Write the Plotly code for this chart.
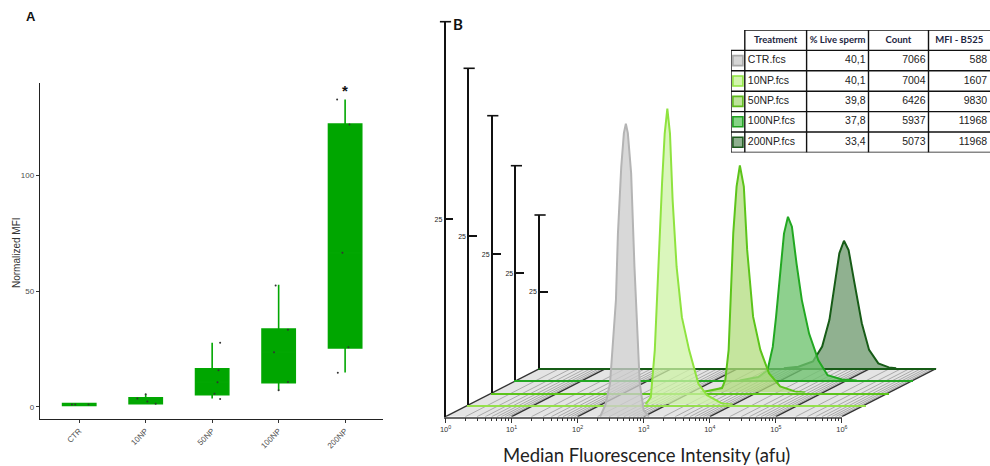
import math
import plotly.graph_objects as go

W, H = 990, 466

# ---------------- Panel A data ----------------
groups = ["CTR", "10NP", "50NP", "100NP", "200NP"]
box_q1 = [0.6, 1.4, 5.3, 10.5, 25.4]
box_median = [1.0, 2.4, 10.6, 23.6, 66.5]
box_q3 = [1.5, 3.9, 16.4, 33.6, 122.0]
box_lower = [0.6, 1.4, 3.6, 7.2, 14.8]
box_upper = [1.5, 5.5, 27.7, 52.7, 132.6]
pts_group = [0, 0, 0, 1, 1, 1, 1, 2, 2, 2, 2, 2, 3, 3, 3, 3, 3, 4, 4, 4, 4, 4]
pts_jitter = [-0.11, -0.06, 0.14, -0.125, 0.025, 0.15, 0.0, 0.12, 0.095, 0.08, 0.035, 0.12,
              -0.045, 0.14, -0.07, 0.14, 0.0, -0.12, 0.065, -0.04, 0.05, -0.11]
pts_value = [1.0, 1.0, 1.0, 3.6, 2.4, 1.4, 5.5, 27.7, 15.8, 10.6, 5.7, 3.4,
             52.4, 33.3, 23.6, 10.8, 7.2, 132.6, 121.8, 66.5, 25.7, 14.7]
yticks_A = [0, 50, 100]

# ---------------- Panel B data ----------------
samples = ["CTR.fcs", "10NP.fcs", "50NP.fcs", "100NP.fcs", "200NP.fcs"]
live_pct = ["40,1", "40,1", "39,8", "37,8", "33,4"]
event_count = ["7066", "7004", "6426", "5937", "5073"]
mfi_b525 = ["588", "1607", "9830", "11968", "11968"]
table_headers = ["Treatment", "% Live sperm", "Count", "MFI - B525"]

ctr_log = [2.34, 2.42, 2.49, 2.53, 2.58, 2.61, 2.66, 2.70, 2.73, 2.76, 2.81, 2.86, 2.91, 2.94, 3.00, 3.08]
ctr_cnt = [0, 1.5, 4.2, 8.4, 14.8, 23.2, 31.6, 35.9, 37.1, 35.9, 30.8, 19.0, 10.5, 4.2, 0.8, 0]
np10_log = [2.67, 2.75, 2.81, 2.86, 2.92, 2.96, 3.00, 3.04, 3.08, 3.14, 3.22, 3.33, 3.47, 3.60, 3.83, 3.99]
np10_cnt = [0, 1.1, 8.1, 20.5, 32.9, 40.3, 44.0, 40.3, 30.4, 20.5, 13.0, 8.1, 3.1, 1.4, 0.15, 0]
np50_log = [3.14, 3.30, 3.47, 3.52, 3.57, 3.60, 3.64, 3.69, 3.74, 3.80, 3.85, 3.94, 4.05, 4.18, 4.35, 4.57, 4.73]
np50_cnt = [0, 0.36, 0.8, 2.3, 7.7, 16.7, 28.8, 37.2, 41.0, 37.2, 25.8, 13.7, 7.7, 3.5, 1.1, 0.2, 0]
np100_log = [3.38, 3.66, 3.80, 3.88, 3.93, 3.99, 4.05, 4.11, 4.17, 4.24, 4.32, 4.43, 4.57, 4.71, 4.93, 5.15]
np100_cnt = [0, 0.8, 2.3, 7.8, 14.8, 24.9, 34.2, 38.1, 35.8, 27.2, 18.7, 10.9, 4.7, 1.2, 0.2, 0]
np200_log = [3.69, 3.91, 4.13, 4.27, 4.38, 4.46, 4.53, 4.60, 4.67, 4.76, 4.87, 4.98, 5.12, 5.28, 5.39]
np200_cnt = [0, 0.5, 2.2, 7.1, 15.8, 27.7, 37.5, 41.6, 38.6, 27.7, 14.7, 6.0, 1.6, 0.3, 0]

hist_logs = [ctr_log, np10_log, np50_log, np100_log, np200_log]
hist_cnts = [ctr_cnt, np10_cnt, np50_cnt, np100_cnt, np200_cnt]
decades = [0, 1, 2, 3, 4, 5, 6]
minor_mult = [2, 3, 4, 5, 6, 7, 8, 9]
count_axis_max = 50
count_tick = 25

# ---------------- styles ----------------
line_cols = ["#b4b4b4", "#8fe33f", "#5cc41a", "#22a822", "#175c17"]
fill_cols = ["rgba(205,205,205,0.78)", "rgba(205,243,165,0.75)", "rgba(178,220,125,0.75)",
             "rgba(110,195,110,0.78)", "rgba(120,160,120,0.82)"]
base_cols = ["#7a7a7a", "#96e04c", "#5cc41a", "#22a822", "#175c17"]
swatch_fill = ["#d6d6d6", "#d2f5ad", "#bde39a", "#86d486", "#8fb08f"]
swatch_line = ["#a8a8a8", "#8fe33f", "#5cb81a", "#1e9e1e", "#1e5a1e"]

BOX_FILL = "#00a600"
BOX_LINE = "#02a702"

# geometry (pixels)
X0, XW = 445.5, 396.4      # front layer x start / width of 6 decades
DX, DY = 23.64, 12.1       # per-layer depth shift
Y0 = 416.7                 # front baseline
TOPS = [21.7, 68.3, 115.7, 165.7, 215.0]
NL = len(samples)
skew = DX / (XW / 6.0)

T_LEFT, T_TOP, ROW_H = 731.0, 30.0, 20.4
COL_W = [13.8, 61.8, 61.9, 60.0, 61.6]


def fx(p):
    return p / W


def fy(p):
    return 1 - p / H


fig = go.Figure()

# ---------------- Panel A ----------------
for i, g in enumerate(groups):
    fig.add_trace(go.Box(
        x=[i], q1=[box_q1[i]], median=[box_median[i]], q3=[box_q3[i]],
        lowerfence=[box_lower[i]], upperfence=[box_upper[i]],
        width=0.5, whiskerwidth=0, fillcolor=BOX_FILL,
        line=dict(color=BOX_LINE, width=1.6), boxpoints=False,
        xaxis="x", yaxis="y", showlegend=False, hoverinfo="skip"))

fig.add_trace(go.Scatter(
    x=[pts_group[j] + pts_jitter[j] for j in range(len(pts_group))], y=pts_value,
    mode="markers", marker=dict(size=2, color="#333"), xaxis="x", yaxis="y",
    showlegend=False, cliponaxis=False))

# ---------------- Panel B floor ----------------
s_end = (NL - 1) * skew
fig.add_trace(go.Scatter(
    x=[decades[0], decades[-1], decades[-1] + s_end, decades[0] + s_end, decades[0]],
    y=[0, 0, NL - 1, NL - 1, 0], fill="toself", fillcolor="#e4e4e4",
    mode="lines", line=dict(width=0), xaxis="x2", yaxis="y2", showlegend=False, hoverinfo="skip"))
mx, my = [], []
for d in decades[:-1]:
    for m in minor_mult:
        v = d + math.log10(m)
        mx += [v, v + s_end, None]
        my += [0, NL - 1, None]
fig.add_trace(go.Scatter(x=mx, y=my, mode="lines", line=dict(color="#9a9a9a", width=0.8),
                         xaxis="x2", yaxis="y2", showlegend=False, hoverinfo="skip"))
dx_, dy_ = [], []
for d in decades:
    dx_ += [d, d + s_end, None]
    dy_ += [0, NL - 1, None]
fig.add_trace(go.Scatter(x=dx_, y=dy_, mode="lines", line=dict(color="#333333", width=1.3),
                         xaxis="x2", yaxis="y2", showlegend=False, hoverinfo="skip"))

# ---------------- Panel B layers (back to front) ----------------
layout_axes = {}
order = list(range(NL - 1, -1, -1))
for idx, k in enumerate(order):
    n = 3 + idx
    xa, ya = f"x{n}", f"y{n}"
    xs = [10 ** v for v in hist_logs[k]]
    fig.add_trace(go.Scatter(
        x=xs, y=hist_cnts[k], mode="lines", fill="tozeroy", fillcolor=fill_cols[k],
        line=dict(color=line_cols[k], width=2), xaxis=xa, yaxis=ya,
        showlegend=False, cliponaxis=False, hoverinfo="skip"))
    fig.add_trace(go.Scatter(
        x=[10 ** decades[0]], y=[count_axis_max], mode="markers",
        marker=dict(symbol="line-ew", size=8, line=dict(color="#111", width=1.6)),
        xaxis=xa, yaxis=ya, showlegend=False, cliponaxis=False, hoverinfo="skip"))
    xd = [fx(X0 + k * DX), fx(X0 + k * DX + XW)]
    yd = [fy(Y0 - k * DY), fy(TOPS[k])]
    xax = dict(domain=xd, type="log", range=[decades[0], decades[-1]], anchor=ya,
               showgrid=False, zeroline=False, automargin=False, fixedrange=True)
    if k == 0:
        xax.update(showline=True, linecolor="#6a6a6a", linewidth=1.5,
                   ticks="outside", ticklen=5, tickwidth=1.2, tickcolor="#333",
                   tickvals=[10 ** d for d in decades],
                   ticktext=[f"10<sup>{d}</sup>" for d in decades],
                   tickfont=dict(size=7.5, color="#333", family="Liberation Sans"),
                   minor=dict(tickvals=[m * 10 ** d for d in decades[:-1] for m in minor_mult],
                              ticks="outside", ticklen=3, tickcolor="#333", tickwidth=1))
    else:
        xax.update(showline=True, linecolor=base_cols[k], linewidth=2.2,
                   ticks="", showticklabels=False)
    yax = dict(domain=yd, range=[0, count_axis_max], anchor=xa, showgrid=False,
               zeroline=False, showline=True, linecolor="#111", linewidth=1.6,
               ticks="inside", ticklen=8, tickwidth=1.6, tickcolor="#111",
               tickvals=[count_tick], ticktext=[str(count_tick)],
               tickfont=dict(size=7, color="#222", family="Liberation Sans"),
               automargin=False, fixedrange=True)
    layout_axes[f"xaxis{n}"] = xax
    layout_axes[f"yaxis{n}"] = yax

# ---------------- Table (axis x8/y8: x in px-width units, y in rows) ----------------
edges = [0.0]
for w in COL_W:
    edges.append(edges[-1] + w)
n_rows = NL + 1
gx, gy = [], []
gx += [edges[1], edges[-1], None]
gy += [0, 0, None]
for r in range(1, n_rows + 1):
    gx += [edges[0], edges[-1], None]
    gy += [r, r, None]
gx += [edges[0], edges[0], None]
gy += [1, n_rows, None]
for e in edges[1:-1]:
    gx += [e, e, None]
    gy += [0, n_rows, None]
fig.add_trace(go.Scatter(x=gx, y=gy, mode="lines", line=dict(color="#111", width=1.4),
                         xaxis="x8", yaxis="y8", showlegend=False, hoverinfo="skip",
                         cliponaxis=False))
fig.add_trace(go.Scatter(
    x=[(edges[0] + edges[1]) / 2] * NL, y=[r + 1.5 for r in range(NL)], mode="markers",
    marker=dict(symbol="square", size=10, color=swatch_fill, line=dict(color=swatch_line, width=1.6)),
    xaxis="x8", yaxis="y8", showlegend=False, hoverinfo="skip", cliponaxis=False))
fig.add_trace(go.Scatter(
    x=[(edges[c + 1] + edges[c + 2]) / 2 for c in range(len(table_headers))], y=[0.5] * len(table_headers),
    mode="text", text=["<b>" + h + "</b>" for h in table_headers], textposition="middle center",
    textfont=dict(family="Lato", size=9.5, color="#1c2541"),
    xaxis="x8", yaxis="y8", showlegend=False, hoverinfo="skip", cliponaxis=False))
body_font = dict(family="Liberation Sans", size=10.5, color="#222")
fig.add_trace(go.Scatter(
    x=[edges[1] + 3] * NL, y=[r + 1.5 for r in range(NL)], mode="text", text=samples,
    textposition="middle right", textfont=body_font,
    xaxis="x8", yaxis="y8", showlegend=False, hoverinfo="skip", cliponaxis=False))
for c, col in enumerate([live_pct, event_count, mfi_b525]):
    fig.add_trace(go.Scatter(
        x=[edges[c + 3] - 3] * NL, y=[r + 1.5 for r in range(NL)], mode="text", text=col,
        textposition="middle left", textfont=body_font,
        xaxis="x8", yaxis="y8", showlegend=False, hoverinfo="skip", cliponaxis=False))

# ---------------- Layout ----------------
fig.update_layout(
    width=W, height=H, margin=dict(l=0, r=0, t=0, b=0),
    paper_bgcolor="white", plot_bgcolor="rgba(0,0,0,0)",
    font=dict(family="Liberation Sans"), showlegend=False,
    xaxis=dict(domain=[fx(40), fx(383)], range=[-0.59, 4.57], anchor="y",
               tickvals=list(range(len(groups))), ticktext=groups, tickangle=-45,
               tickfont=dict(size=8, color="#4d4d4d"), ticks="outside", ticklen=3,
               tickcolor="#333", showline=True, linecolor="#222", linewidth=1.4,
               showgrid=False, zeroline=False, automargin=False),
    yaxis=dict(domain=[fy(419), fy(83)], range=[-5.2, 139.7], anchor="x",
               tickvals=yticks_A, tickfont=dict(size=8, color="#4d4d4d"),
               ticks="outside", ticklen=3, tickcolor="#333", showline=True,
               linecolor="#222", linewidth=1.4, showgrid=False, zeroline=False,
               automargin=False),
    xaxis2=dict(domain=[fx(X0), fx(X0 + XW + (NL - 1) * DX)], range=[decades[0], decades[-1] + s_end],
                anchor="y2", visible=False, fixedrange=True),
    yaxis2=dict(domain=[fy(Y0), fy(Y0 - (NL - 1) * DY)], range=[0, NL - 1], anchor="x2",
                visible=False, fixedrange=True),
    xaxis8=dict(domain=[fx(T_LEFT), 1.0], range=[0, W - T_LEFT], anchor="y8", visible=False,
                fixedrange=True),
    yaxis8=dict(domain=[fy(T_TOP + n_rows * ROW_H), fy(T_TOP)], range=[n_rows, 0], anchor="x8",
                visible=False, fixedrange=True),
    **layout_axes,
)

fig.add_annotation(x=fx(16), y=fy(253), xref="paper", yref="paper", text="Normalized MFI",
                   textangle=-90, showarrow=False, xanchor="center", yanchor="middle",
                   font=dict(size=10, color="#333"))
fig.add_annotation(x=4, y=136.5, xref="x", yref="y", text="<b>*</b>", showarrow=False,
                   font=dict(size=15, color="#111"))
fig.add_annotation(x=fx(31), y=fy(17), xref="paper", yref="paper", text="<b>A</b>",
                   showarrow=False, xanchor="center", yanchor="middle",
                   font=dict(size=13, color="#111"))
fig.add_annotation(x=fx(458), y=fy(24), xref="paper", yref="paper", text="<b>B</b>",
                   showarrow=False, xanchor="center", yanchor="middle",
                   font=dict(size=15, color="#111", family="Lato"))
fig.add_annotation(x=fx(646), y=fy(455), xref="paper", yref="paper",
                   text="Median Fluorescence Intensity (afu)", showarrow=False,
                   xanchor="center", yanchor="middle",
                   font=dict(size=18.5, color="#222", family="Lato"))

fig.write_html("out.html")
